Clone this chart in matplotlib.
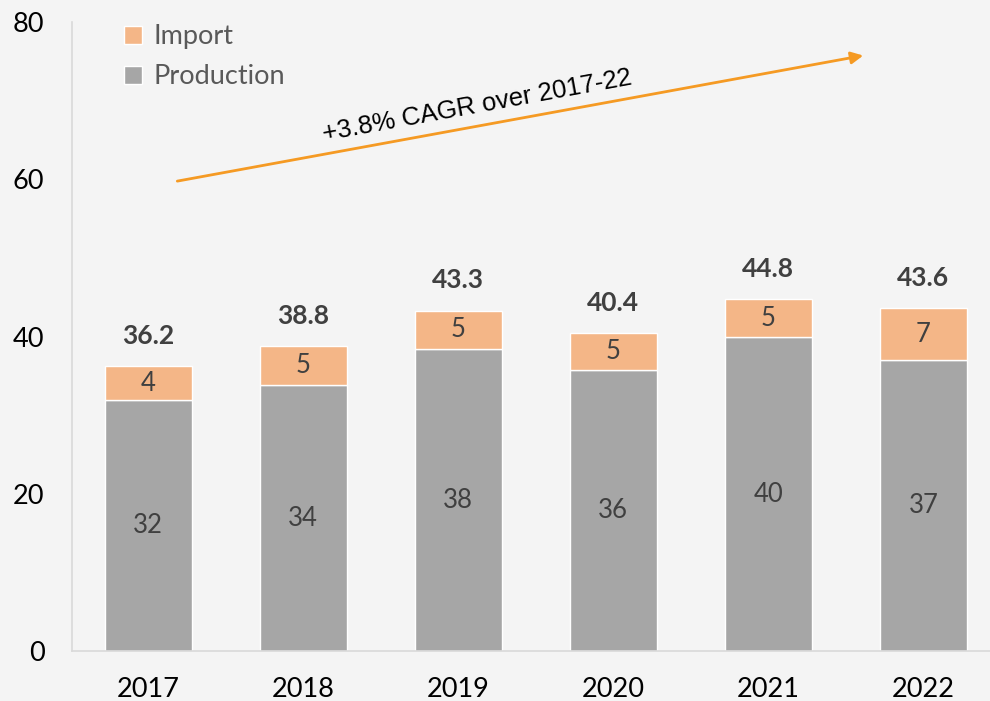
import matplotlib
matplotlib.use("Agg")
import matplotlib.pyplot as plt
import numpy as np

years = ["2017", "2018", "2019", "2020", "2021", "2022"]
production = [31.9, 33.8, 38.4, 35.8, 39.9, 37.0]
imports = [4.3, 5.0, 4.9, 4.6, 4.9, 6.6]
totals = [36.2, 38.8, 43.3, 40.4, 44.8, 43.6]
cagr_text = "+3.8% CAGR over 2017-22"

BG = "#f4f4f4"
GRAY = "#a6a6a6"
ORANGE = "#f4b687"
ARROW = "#f59a23"

plt.rcParams["font.family"] = ["Lato", "DejaVu Sans"]

fig = plt.figure(figsize=(9.9, 7.01), dpi=100, facecolor=BG)
ax = fig.add_axes([0.073, 0.0713, 0.927, 0.8973], facecolor=BG)

x = np.arange(len(years))
width = 0.56
ax.bar(x, production, width, color=GRAY, edgecolor="white", linewidth=1,
       label="Production", zorder=2)
ax.bar(x, imports, width, bottom=production, color=ORANGE, edgecolor="white",
       linewidth=1, label="Import", zorder=2)

for i in range(len(years)):
    ax.text(x[i], production[i] / 2, f"{production[i]:.0f}", ha="center",
            va="center", fontsize=18.5, color="#404040")
    ax.text(x[i], production[i] + imports[i] / 2, f"{imports[i]:.0f}",
            ha="center", va="center", fontsize=18.5, color="#404040")
    ax.text(x[i], totals[i] + 2.3, f"{totals[i]:.1f}", ha="center",
            va="bottom", fontsize=19, fontweight="bold", color="#404040")

# growth arrow
ax.annotate("", xy=(4.63, 75.8), xytext=(0.17, 59.7),
            arrowprops=dict(arrowstyle="-|>", color=ARROW, lw=2,
                            mutation_scale=18))
ax.text(2.12, 69.4, cagr_text, ha="center", va="center", rotation=10.4,
        fontsize=18.5, family="Liberation Sans", color="black")

ax.set_xlim(-0.49, 5.43)
ax.set_ylim(0, 80)
ax.set_yticks([0, 20, 40, 60, 80])
ax.set_xticks(x)
ax.set_xticklabels(years)
ax.tick_params(axis="both", length=0, labelsize=19.5, colors="black")
ax.tick_params(axis="y", pad=20)
ax.tick_params(axis="x", pad=19)

for side in ["top", "right"]:
    ax.spines[side].set_visible(False)
for side in ["left", "bottom"]:
    ax.spines[side].set_color("#d9d9d9")
    ax.spines[side].set_linewidth(1.2)

handles, labels = ax.get_legend_handles_labels()
leg = ax.legend(handles[::-1], labels[::-1], loc="upper left",
                bbox_to_anchor=(0.03, 1.035), frameon=False, fontsize=19.5,
                handlelength=0.65, handleheight=0.65, handletextpad=0.45,
                labelspacing=0.55)
for t in leg.get_texts():
    t.set_color("#595959")

fig.savefig("out.png", dpi=100, facecolor=BG)
